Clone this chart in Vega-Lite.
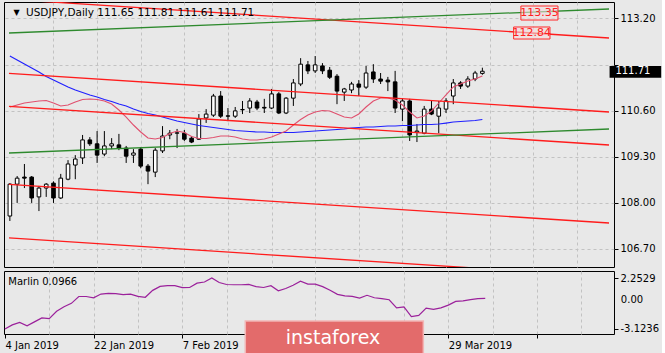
{
  "$schema": "https://vega.github.io/schema/vega-lite/v6.json",
  "background": "#e8e8e8",
  "padding": {"left": 3, "top": 1, "right": 0, "bottom": 0},
  "spacing": 2,
  "config": {
    "view": {"stroke": "#000000", "strokeWidth": 1},
    "font": "DejaVu Sans",
    "axis": {"labelFont": "DejaVu Sans", "labelFontSize": 10, "labelColor": "#000000", "tickColor": "#000000", "gridColor": "#c2c2c2", "gridDash": [3, 3], "gridWidth": 1, "domain": false, "title": null, "labelOverlap": false}
  },
  "datasets": {
    "bars": [
      {"i":0,"o":107.62,"h":108.55,"l":107.48,"c":108.52,"blue":112.140,"pink":110.700,"m":-3.1236},
      {"i":1,"o":108.52,"h":108.75,"l":107.99,"c":108.69,"blue":112.027,"pink":110.756,"m":-2.69},
      {"i":2,"o":108.72,"h":109.09,"l":108.41,"c":108.69,"blue":111.914,"pink":110.813,"m":-2.44},
      {"i":3,"o":108.72,"h":108.75,"l":107.99,"c":108.13,"blue":111.801,"pink":110.841,"m":-2.79},
      {"i":4,"o":108.16,"h":108.47,"l":107.76,"c":108.41,"blue":111.688,"pink":110.869,"m":-2.37},
      {"i":5,"o":108.41,"h":108.55,"l":108.16,"c":108.52,"blue":111.561,"pink":110.883,"m":-1.96},
      {"i":6,"o":108.55,"h":108.60,"l":107.99,"c":108.13,"blue":111.462,"pink":110.813,"m":-2.03},
      {"i":7,"o":108.13,"h":108.81,"l":108.10,"c":108.69,"blue":111.363,"pink":110.728,"m":-1.25},
      {"i":8,"o":108.66,"h":109.20,"l":108.63,"c":109.09,"blue":111.265,"pink":110.756,"m":-0.78},
      {"i":9,"o":109.06,"h":109.34,"l":108.66,"c":109.23,"blue":111.180,"pink":110.841,"m":-0.42},
      {"i":10,"o":109.26,"h":109.91,"l":109.09,"c":109.77,"blue":111.109,"pink":110.912,"m":0.30},
      {"i":11,"o":109.77,"h":109.85,"l":109.60,"c":109.66,"blue":111.039,"pink":110.926,"m":0.30},
      {"i":12,"o":109.66,"h":110.02,"l":109.12,"c":109.34,"blue":110.982,"pink":110.912,"m":0.17},
      {"i":13,"o":109.37,"h":110.02,"l":109.31,"c":109.60,"blue":110.912,"pink":110.869,"m":0.56},
      {"i":14,"o":109.60,"h":109.82,"l":109.51,"c":109.66,"blue":110.855,"pink":110.784,"m":0.63},
      {"i":15,"o":109.63,"h":109.94,"l":109.48,"c":109.54,"blue":110.784,"pink":110.615,"m":0.61},
      {"i":16,"o":109.54,"h":109.60,"l":109.12,"c":109.31,"blue":110.728,"pink":110.417,"m":0.51},
      {"i":17,"o":109.34,"h":109.51,"l":109.12,"c":109.40,"blue":110.643,"pink":110.191,"m":0.56},
      {"i":18,"o":109.51,"h":109.57,"l":108.97,"c":109.03,"blue":110.573,"pink":109.994,"m":0.32},
      {"i":19,"o":109.03,"h":109.09,"l":108.52,"c":108.89,"blue":110.516,"pink":109.824,"m":0.22},
      {"i":20,"o":108.86,"h":109.54,"l":108.72,"c":109.48,"blue":110.474,"pink":109.796,"m":0.95},
      {"i":21,"o":109.46,"h":110.16,"l":109.40,"c":109.88,"blue":110.417,"pink":109.838,"m":1.37},
      {"i":22,"o":109.91,"h":110.05,"l":109.79,"c":109.96,"blue":110.361,"pink":109.951,"m":1.44},
      {"i":23,"o":109.96,"h":110.08,"l":109.54,"c":109.97,"blue":110.304,"pink":110.022,"m":1.44},
      {"i":24,"o":109.96,"h":110.05,"l":109.74,"c":109.79,"blue":110.262,"pink":109.979,"m":1.23},
      {"i":25,"o":109.82,"h":109.88,"l":109.68,"c":109.71,"blue":110.219,"pink":109.866,"m":1.25},
      {"i":26,"o":109.79,"h":110.50,"l":109.77,"c":110.36,"blue":110.177,"pink":109.810,"m":1.71},
      {"i":27,"o":110.39,"h":110.64,"l":110.25,"c":110.50,"blue":110.149,"pink":109.810,"m":1.83},
      {"i":28,"o":110.47,"h":111.07,"l":110.42,"c":111.01,"blue":110.120,"pink":109.838,"m":2.2529},
      {"i":29,"o":111.01,"h":111.15,"l":110.39,"c":110.44,"blue":110.092,"pink":109.880,"m":1.78},
      {"i":30,"o":110.45,"h":110.67,"l":110.30,"c":110.44,"blue":110.064,"pink":109.880,"m":1.57},
      {"i":31,"o":110.44,"h":110.70,"l":110.39,"c":110.59,"blue":110.036,"pink":109.852,"m":1.54},
      {"i":32,"o":110.62,"h":110.87,"l":110.50,"c":110.63,"blue":110.022,"pink":109.796,"m":1.54},
      {"i":33,"o":110.67,"h":110.95,"l":110.53,"c":110.87,"blue":110.008,"pink":109.767,"m":1.57},
      {"i":34,"o":110.84,"h":110.90,"l":110.61,"c":110.67,"blue":109.994,"pink":109.767,"m":1.34},
      {"i":35,"o":110.69,"h":110.93,"l":110.53,"c":110.67,"blue":109.994,"pink":109.796,"m":1.25},
      {"i":36,"o":110.67,"h":111.21,"l":110.64,"c":111.07,"blue":109.979,"pink":109.852,"m":1.44},
      {"i":37,"o":111.07,"h":111.12,"l":110.50,"c":110.53,"blue":109.979,"pink":109.937,"m":0.90},
      {"i":38,"o":110.53,"h":110.98,"l":110.50,"c":110.95,"blue":109.979,"pink":110.022,"m":1.15},
      {"i":39,"o":110.95,"h":111.49,"l":110.73,"c":111.38,"blue":109.979,"pink":110.191,"m":1.49},
      {"i":40,"o":111.35,"h":112.08,"l":111.29,"c":111.91,"blue":109.994,"pink":110.347,"m":1.91},
      {"i":41,"o":111.89,"h":112.00,"l":111.63,"c":111.72,"blue":110.008,"pink":110.474,"m":1.61},
      {"i":42,"o":111.72,"h":112.14,"l":111.66,"c":111.89,"blue":110.022,"pink":110.558,"m":1.61},
      {"i":43,"o":111.86,"h":111.94,"l":111.63,"c":111.72,"blue":110.036,"pink":110.601,"m":1.34},
      {"i":44,"o":111.74,"h":111.83,"l":111.49,"c":111.54,"blue":110.050,"pink":110.587,"m":0.97},
      {"i":45,"o":111.57,"h":111.63,"l":110.78,"c":111.15,"blue":110.064,"pink":110.502,"m":0.53},
      {"i":46,"o":111.12,"h":111.24,"l":110.87,"c":111.21,"blue":110.078,"pink":110.417,"m":0.37},
      {"i":47,"o":111.18,"h":111.41,"l":111.09,"c":111.35,"blue":110.106,"pink":110.389,"m":0.32},
      {"i":48,"o":111.35,"h":111.46,"l":111.01,"c":111.26,"blue":110.120,"pink":110.502,"m":0.14},
      {"i":49,"o":111.26,"h":111.86,"l":111.21,"c":111.66,"blue":110.135,"pink":110.700,"m":0.43},
      {"i":50,"o":111.69,"h":111.91,"l":111.38,"c":111.49,"blue":110.135,"pink":110.869,"m":0.17},
      {"i":51,"o":111.49,"h":111.66,"l":111.35,"c":111.43,"blue":110.149,"pink":110.954,"m":0.07},
      {"i":52,"o":111.46,"h":111.55,"l":111.15,"c":111.41,"blue":110.163,"pink":110.954,"m":-0.04},
      {"i":53,"o":111.41,"h":111.72,"l":110.53,"c":110.67,"blue":110.163,"pink":110.897,"m":-0.90},
      {"i":54,"o":110.64,"h":110.95,"l":110.30,"c":110.87,"blue":110.177,"pink":110.756,"m":-0.79},
      {"i":55,"o":110.87,"h":110.93,"l":109.74,"c":109.91,"blue":110.177,"pink":110.558,"m":-1.81},
      {"i":56,"o":109.99,"h":110.22,"l":109.71,"c":110.02,"blue":110.191,"pink":110.389,"m":-1.69},
      {"i":57,"o":109.96,"h":110.73,"l":109.93,"c":110.64,"blue":110.205,"pink":110.445,"m":-0.93},
      {"i":58,"o":110.64,"h":110.87,"l":110.47,"c":110.50,"blue":110.205,"pink":110.587,"m":-1.05},
      {"i":59,"o":110.44,"h":110.87,"l":109.96,"c":110.67,"blue":110.219,"pink":110.813,"m":-0.90},
      {"i":60,"o":110.64,"h":110.95,"l":110.53,"c":110.87,"blue":110.247,"pink":111.039,"m":-0.61},
      {"i":61,"o":111.01,"h":111.49,"l":110.78,"c":111.38,"blue":110.276,"pink":111.265,"m":-0.22},
      {"i":62,"o":111.38,"h":111.43,"l":111.21,"c":111.29,"blue":110.290,"pink":111.349,"m":-0.16},
      {"i":63,"o":111.29,"h":111.57,"l":111.24,"c":111.49,"blue":110.304,"pink":111.434,"m":-0.02},
      {"i":64,"o":111.49,"h":111.72,"l":111.43,"c":111.66,"blue":110.318,"pink":111.491,"m":0.07},
      {"i":65,"o":111.65,"h":111.81,"l":111.61,"c":111.71,"blue":110.347,"pink":111.575,"m":0.0966}
    ],
    "lines": [
      {"name":"R1","kind":"red","i":-0.12,"p":113.743},{"name":"R1","kind":"red","i":82.42,"p":112.649},
      {"name":"R2","kind":"red","i":-0.12,"p":111.652},{"name":"R2","kind":"red","i":82.42,"p":110.558},
      {"name":"R3","kind":"red","i":-0.12,"p":110.719},{"name":"R3","kind":"red","i":82.42,"p":109.626},
      {"name":"R4","kind":"red","i":-0.12,"p":108.516},{"name":"R4","kind":"red","i":82.42,"p":107.423},
      {"name":"R5","kind":"red","i":-0.12,"p":107.000},{"name":"R5","kind":"red","i":82.42,"p":105.906},
      {"name":"G1","kind":"green","i":-0.12,"p":112.790},{"name":"G1","kind":"green","i":82.42,"p":113.468},
      {"name":"G2","kind":"green","i":-0.12,"p":109.400},{"name":"G2","kind":"green","i":82.42,"p":110.078}
    ],
    "tags": [
      {"t":"113.35","x1":70.3,"x2":75.4,"p1":113.157,"p2":113.553,"xm":72.85,"pm":113.355},
      {"t":"112.84","x1":69.3,"x2":74.3,"p1":112.62,"p2":112.96,"xm":71.8,"pm":112.79}
    ]
  },
  "vconcat": [
    {
      "width": 610,
      "height": 265,
      "layer": [
        {
          "mark": {"type": "rule", "color": "#c4c4c4", "strokeWidth": 1},
          "encoding": {
            "y": {"datum": 111.71, "type": "quantitative",
              "scale": {"domain": [106.18, 113.666], "nice": false, "zero": false},
              "axis": {"orient": "right", "values": [106.7, 108.0, 109.3, 110.6, 111.9, 113.2], "tickSize": 4, "labelPadding": 2, "grid": true,
                "labelExpr": "abs(datum.value - 111.9) < 0.01 ? '' : format(datum.value, '.2f')"}}
          }
        },
        {
          "data": {"name": "bars"},
          "mark": {"type": "rule", "color": "#000000", "strokeWidth": 1, "clip": true},
          "encoding": {
            "x": {"field": "i", "type": "quantitative",
              "scale": {"domain": [-0.12, 82.42], "nice": false, "zero": false},
              "axis": {"values": [6, 12, 18, 24, 30, 36, 42, 48, 54, 60, 66, 72, 78], "grid": true, "labels": false, "ticks": false, "domain": false}},
            "y": {"field": "l", "type": "quantitative"},
            "y2": {"field": "h"}
          }
        },
        {
          "data": {"name": "bars"},
          "mark": {"type": "bar", "width": 3.6, "stroke": "#000000", "strokeWidth": 1, "clip": true},
          "encoding": {
            "x": {"field": "i", "type": "quantitative"},
            "y": {"field": "o", "type": "quantitative"},
            "y2": {"field": "c"},
            "fill": {"condition": {"test": "datum.c >= datum.o", "value": "#ffffff"}, "value": "#000000"}
          }
        },
        {
          "data": {"name": "bars"},
          "mark": {"type": "line", "color": "#2020ff", "strokeWidth": 1.2, "clip": true},
          "encoding": {"x": {"field": "i", "type": "quantitative"}, "y": {"field": "blue", "type": "quantitative"}}
        },
        {
          "data": {"name": "bars"},
          "mark": {"type": "line", "color": "#e0506e", "strokeWidth": 1.1, "clip": true},
          "encoding": {"x": {"field": "i", "type": "quantitative"}, "y": {"field": "pink", "type": "quantitative"}}
        },
        {
          "data": {"name": "lines"},
          "transform": [{"filter": "datum.kind == 'red'"}],
          "mark": {"type": "line", "color": "#ff1c1c", "strokeWidth": 1.3, "clip": true},
          "encoding": {"x": {"field": "i", "type": "quantitative"}, "y": {"field": "p", "type": "quantitative"}, "detail": {"field": "name"}}
        },
        {
          "data": {"name": "lines"},
          "transform": [{"filter": "datum.kind == 'green'"}],
          "mark": {"type": "line", "color": "#2e8a2e", "strokeWidth": 1.3, "clip": true},
          "encoding": {"x": {"field": "i", "type": "quantitative"}, "y": {"field": "p", "type": "quantitative"}, "detail": {"field": "name"}}
        },
        {
          "data": {"name": "tags"},
          "mark": {"type": "rect", "fill": "#f3dcdc", "fillOpacity": 0.6, "stroke": "#ff2a2a", "strokeWidth": 1},
          "encoding": {"x": {"field": "x1", "type": "quantitative"}, "x2": {"field": "x2"}, "y": {"field": "p1", "type": "quantitative"}, "y2": {"field": "p2"}}
        },
        {
          "data": {"name": "tags"},
          "mark": {"type": "text", "color": "#ff2020", "fontSize": 11, "font": "DejaVu Sans", "align": "center", "baseline": "middle"},
          "encoding": {"x": {"field": "xm", "type": "quantitative"}, "y": {"field": "pm", "type": "quantitative"}, "text": {"field": "t"}}
        },
        {
          "data": {"values": [{"x1": 82.5, "x2": 89.6, "p1": 111.527, "p2": 111.858, "xm": 83.3, "pm": 111.71, "t": "111.71"}]},
          "layer": [
            {
              "mark": {"type": "rect", "fill": "#000000"},
              "encoding": {"x": {"field": "x1", "type": "quantitative"}, "x2": {"field": "x2"}, "y": {"field": "p1", "type": "quantitative"}, "y2": {"field": "p2"}}
            },
            {
              "mark": {"type": "text", "color": "#ffffff", "fontSize": 10, "align": "left", "baseline": "middle"},
              "encoding": {"x": {"field": "xm", "type": "quantitative"}, "y": {"field": "pm", "type": "quantitative"}, "text": {"field": "t"}}
            }
          ]
        },
        {
          "data": {"values": [{"i": 0.93, "p": 113.36, "t": "▼"}]},
          "mark": {"type": "text", "color": "#000000", "fontSize": 8, "align": "center", "baseline": "middle"},
          "encoding": {"x": {"field": "i", "type": "quantitative"}, "y": {"field": "p", "type": "quantitative"}, "text": {"field": "t"}}
        },
        {
          "data": {"values": [{"i": 2.22, "p": 113.355, "t": "USDJPY,Daily  111.65 111.81 111.61 111.71"}]},
          "mark": {"type": "text", "color": "#000000", "fontSize": 10.5, "align": "left", "baseline": "middle"},
          "encoding": {"x": {"field": "i", "type": "quantitative"}, "y": {"field": "p", "type": "quantitative"}, "text": {"field": "t"}}
        }
      ]
    },
    {
      "width": 610,
      "height": 63,
      "layer": [
        {
          "mark": {"type": "rule", "color": "#c2c2c2", "strokeDash": [3, 3], "strokeWidth": 1},
          "encoding": {
            "y": {"datum": 0, "type": "quantitative",
              "scale": {"domain": [-3.651, 2.991], "nice": false, "zero": false},
              "axis": {"orient": "right", "values": [2.2529, 0, -3.1236], "grid": false, "tickSize": 4, "labelPadding": 2,
                "labelExpr": "datum.value > 1 ? '2.2529' : (datum.value < -1 ? '-3.1236' : '')"}}
          }
        },
        {
          "data": {"name": "bars"},
          "mark": {"type": "line", "color": "#9b219b", "strokeWidth": 1.2, "clip": true},
          "encoding": {
            "x": {"field": "i", "type": "quantitative",
              "scale": {"domain": [-0.12, 82.42], "nice": false, "zero": false},
              "axis": {"values": [0, 6, 12, 18, 24, 30, 42, 54, 60, 66, 72, 78], "grid": true, "tickSize": 4, "labelPadding": 2,
                "labelAlign": "left", "labelFlush": false, "labelBound": false,
                "gridOpacity": {"expr": "datum.value == 0 ? 0 : 1"},
                "tickOpacity": {"expr": "datum.value % 12 == 0 ? 1 : 0"},
                "labelExpr": "datum.value == 0 ? '4 Jan 2019' : datum.value == 12 ? '22 Jan 2019' : datum.value == 24 ? '7 Feb 2019' : datum.value == 60 ? '29 Mar 2019' : ''"}},
            "y": {"field": "m", "type": "quantitative"}
          }
        },
        {
          "data": {"values": [{"i": 0.46, "v": 1.86, "t": "Marlin 0.0966"}, {"i": 83.35, "v": -0.05, "t": "0.00"}]},
          "mark": {"type": "text", "color": "#000000", "fontSize": 10, "align": "left", "baseline": "middle"},
          "encoding": {"x": {"field": "i", "type": "quantitative"}, "y": {"field": "v", "type": "quantitative"}, "text": {"field": "t"}}
        },
        {
          "data": {"values": [{"x1": 32.53, "x2": 56.62, "v1": -2.28, "v2": -6.0, "xm": 44.4, "vm": -4.1, "t": "instaforex"}]},
          "layer": [
            {
              "mark": {"type": "rect", "fill": "#e36b6b", "stroke": "#f2b5b5", "strokeWidth": 1.5},
              "encoding": {"x": {"field": "x1", "type": "quantitative"}, "x2": {"field": "x2"}, "y": {"field": "v1", "type": "quantitative"}, "y2": {"field": "v2"}}
            },
            {
              "mark": {"type": "text", "color": "#ffffff", "fontSize": 19, "align": "center", "baseline": "middle"},
              "encoding": {"x": {"field": "xm", "type": "quantitative"}, "y": {"field": "vm", "type": "quantitative"}, "text": {"field": "t"}}
            }
          ]
        }
      ]
    }
  ]
}
